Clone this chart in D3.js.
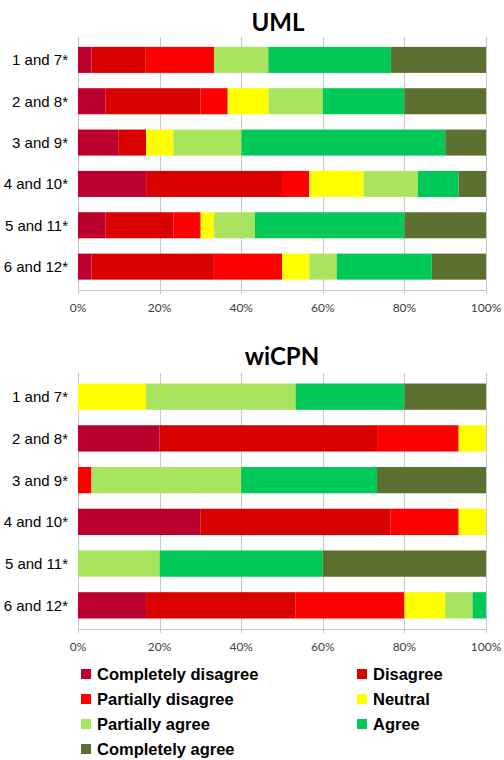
<!DOCTYPE html>
<html>
<head>
<meta charset="utf-8">
<script src="https://cdn.jsdelivr.net/npm/d3@7"></script>
<style>
  body { margin: 0; background: #fff; }
  svg { display: block; }
</style>
</head>
<body>
<svg id="chart" width="504" height="760"></svg>
<script>
// ---------------- data (percent of answers) ----------------
var categories = ["1 and 7*", "2 and 8*", "3 and 9*", "4 and 10*", "5 and 11*", "6 and 12*"];
var responses = ["Completely disagree", "Disagree", "Partially disagree", "Neutral",
                 "Partially agree", "Agree", "Completely agree"];
var tickValues = [0, 0.2, 0.4, 0.6, 0.8, 1];

var umlValues = [
  [3.3, 13.3, 16.7, 0, 13.3, 30, 23.3],
  [6.7, 23.3, 6.7, 10, 13.3, 20, 20],
  [10, 6.7, 0, 6.7, 16.7, 50, 10],
  [16.7, 33.3, 6.7, 13.3, 13.3, 10, 6.7],
  [6.7, 16.7, 6.7, 3.3, 10, 36.7, 20],
  [3.3, 30, 16.7, 6.7, 6.7, 23.3, 13.3]
];
var wicpnValues = [
  [0, 0, 0, 16.7, 36.7, 26.7, 20],
  [20, 53.3, 20, 6.7, 0, 0, 0],
  [0, 0, 3.3, 0, 36.7, 33.3, 26.7],
  [30, 46.7, 16.7, 6.7, 0, 0, 0],
  [0, 0, 0, 0, 20, 40, 40],
  [16.7, 36.7, 26.7, 10, 6.7, 3.3, 0]
];

var palette = ["#bb002d", "#d90000", "#ff0000", "#ffff00", "#a9e45f", "#00c957", "#5c7130"];

// ---------------- layout ----------------
var svg = d3.select("#chart");
var x = d3.scaleLinear().domain([0, 1]).range([78, 486]);
var color = d3.scaleOrdinal().domain(responses).range(palette);

function drawPanel(title, values, o) {
  var g = svg.append("g");

  var rows = values.map(function(v, i) {
    var r = { cat: categories[i] };
    responses.forEach(function(k, j) { r[k] = v[j]; });
    return r;
  });

  var y = d3.scaleBand()
    .domain(categories)
    .range([o.top, o.bottom])
    .paddingInner(0.37)
    .paddingOuter(0.185);

  // gridlines + tick marks
  g.selectAll(".grid")
    .data(tickValues)
  .enter().append("line")
    .attr("x1", function(d) { return Math.round(x(d)) + 0.5; })
    .attr("x2", function(d) { return Math.round(x(d)) + 0.5; })
    .attr("y1", o.gridTop)
    .attr("y2", o.axisY + 4)
    .attr("stroke", "#c8c8c8")
    .attr("stroke-width", 1);

  g.append("line")
    .attr("x1", x(0)).attr("x2", x(1))
    .attr("y1", o.axisY + 0.5).attr("y2", o.axisY + 0.5)
    .attr("stroke", "#c8c8c8");

  var stacked = d3.stack()
    .keys(responses)
    .offset(d3.stackOffsetExpand)(rows);

  g.selectAll(".series")
    .data(stacked)
  .enter().append("g")
    .attr("fill", function(d) { return color(d.key); })
  .selectAll("rect")
    .data(function(d) { return d; })
  .enter().append("rect")
    .attr("x", function(d) { return x(d[0]); })
    .attr("width", function(d) { return Math.max(0, x(d[1]) - x(d[0])); })
    .attr("y", function(d) { return y(d.data.cat); })
    .attr("height", y.bandwidth());

  // category labels
  g.selectAll(".cat")
    .data(categories)
  .enter().append("text")
    .attr("x", 68)
    .attr("y", function(d) { return y(d) + y.bandwidth() / 2; })
    .attr("dy", "0.36em")
    .attr("text-anchor", "end")
    .style("font-family", "'Liberation Sans', Arial, sans-serif")
    .style("font-size", "15px")
    .style("fill", "#000")
    .text(function(d) { return d; });

  // tick labels
  g.selectAll(".tick")
    .data(tickValues)
  .enter().append("text")
    .attr("x", function(d) { return x(d); })
    .attr("y", o.tickY)
    .attr("text-anchor", "middle")
    .style("font-family", "Lato, 'Open Sans', sans-serif")
    .style("font-size", "12px")
    .style("fill", "#404040")
    .text(d3.format(".0%"));

  g.append("text")
    .attr("x", o.titleX)
    .attr("y", o.titleY)
    .attr("text-anchor", "middle")
    .style("font-family", "Lato, 'Open Sans', sans-serif")
    .style("font-weight", "bold")
    .style("font-size", "24px")
    .style("fill", "#000")
    .text(title);
}

drawPanel("UML", umlValues, {
  top: 39.2, bottom: 287.3, gridTop: 37, axisY: 290, tickY: 312, titleX: 278, titleY: 31
});
drawPanel("wiCPN", wicpnValues, {
  top: 375.8, bottom: 626.2, gridTop: 373, axisY: 629, tickY: 651, titleX: 282, titleY: 365
});

// ---------------- legend ----------------
var legend = svg.append("g");
var item = legend.selectAll(".item")
    .data(responses)
  .enter().append("g")
    .attr("transform", function(d, i) {
      var col = i % 2, row = Math.floor(i / 2);
      return "translate(" + (col ? 357 : 81) + "," + (674 + row * 25) + ")";
    });

item.append("rect")
  .attr("x", 0).attr("y", -5)
  .attr("width", 10).attr("height", 10)
  .attr("fill", function(d) { return color(d); });

item.append("text")
  .attr("x", 16)
  .attr("dy", "0.36em")
  .style("font-family", "'Liberation Sans', Arial, sans-serif")
  .style("font-weight", "bold")
  .style("font-size", "16.5px")
  .style("fill", "#000")
  .text(function(d) { return d; });
</script>
</body>
</html>
